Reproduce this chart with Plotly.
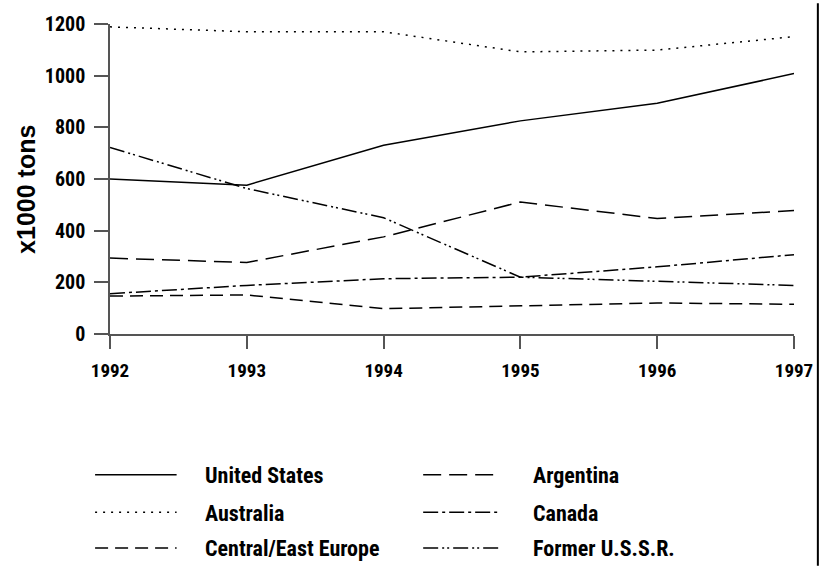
import plotly.graph_objects as go

years = [1992, 1993, 1994, 1995, 1996, 1997]
united_states = [600, 576, 731, 825, 893, 1008]
australia = [1189, 1170, 1170, 1092, 1099, 1151]
argentina = [294, 277, 376, 511, 447, 478]
canada = [156, 188, 214, 220, 260, 307]
central_east_europe = [147, 151, 98, 109, 120, 115]
former_ussr = [722, 563, 450, 220, 204, 188]
y_ticks = [0, 200, 400, 600, 800, 1000, 1200]

series = [
    ("United States", united_states, "solid"),
    ("Australia", australia, "2px,6px"),
    ("Central/East Europe", central_east_europe, "13px,7px"),
    ("Argentina", argentina, "18px,8px"),
    ("Canada", canada, "15px,4px,3px,4px"),
    ("Former U.S.S.R.", former_ussr, "15px,4px,2px,3px,2px,4px"),
]

NARROW = "Roboto Condensed, Open Sans Condensed, Liberation Sans, Arial, sans-serif"
BOLDF = "Liberation Sans, Arial, sans-serif"

W, H = 825, 568
PL, PR, PT, PB = 110, 798, 21, 334  # plot area in pixels


def px(x):
    return (x - PL) / (PR - PL)


def py(y):
    return (PB - y) / (PB - PT)


fig = go.Figure()
for name, vals, dash in series:
    fig.add_trace(go.Scatter(
        x=years, y=vals, mode="lines", name=name,
        line=dict(color="black", width=1.5, dash=dash),
        showlegend=False, hoverinfo="x+y+name",
    ))

# manual legend: 3 rows x 2 columns
legend_rows = [476, 514, 550]
legend_cols = [(95, 177, 204), (425, 502, 533)]
shapes = []
annotations = []
for i, (name, vals, dash) in enumerate(series):
    col = i // 3
    row = i % 3
    x0, x1, xt = legend_cols[col]
    yy = legend_rows[row]
    shapes.append(dict(type="line", xref="paper", yref="paper",
                       x0=px(x0), x1=px(x1), y0=py(yy), y1=py(yy),
                       line=dict(color="black", width=1.5, dash=dash)))
    annotations.append(dict(xref="paper", yref="paper", x=px(xt), y=py(yy + 1),
                            text=name, showarrow=False, xanchor="left", yanchor="middle",
                            font=dict(family=NARROW, size=22, color="black", weight="bold")))

# y axis title
annotations.append(dict(xref="paper", yref="paper", x=px(26), y=py(188),
                        text="x1000 tons", showarrow=False, textangle=-90,
                        xanchor="center", yanchor="middle",
                        font=dict(family=BOLDF, size=25, color="black", weight="bold")))

# right border line
shapes.append(dict(type="line", xref="paper", yref="paper",
                   x0=px(822), x1=px(822), y0=py(0), y1=py(H),
                   line=dict(color="black", width=2)))

fig.update_layout(
    width=W, height=H,
    margin=dict(l=PL, r=W - PR, t=PT, b=H - PB, pad=0),
    paper_bgcolor="white", plot_bgcolor="white",
    showlegend=False,
    shapes=shapes, annotations=annotations,
    xaxis=dict(range=[1992, 1997], tickvals=years, ticktext=[str(y) for y in years],
               showgrid=False, zeroline=False, showline=True, linecolor="#555555", linewidth=1.5,
               ticks="outside", ticklen=13, tickcolor="#555555", tickwidth=1.5,
               ticklabelstandoff=5,
               tickfont=dict(family=NARROW, size=19, color="black", weight="bold")),
    yaxis=dict(range=[0, 1200], tickvals=y_ticks,
               showgrid=False, zeroline=False, showline=True, linecolor="#555555", linewidth=1.5,
               ticks="outside", ticklen=14, tickcolor="#555555", tickwidth=1.5,
               ticklabelstandoff=5,
               tickfont=dict(family=NARROW, size=20, color="black", weight="bold")),
)

fig.write_html("out.html", config={"displayModeBar": False},
               post_script="document.body.style.margin='0';")
